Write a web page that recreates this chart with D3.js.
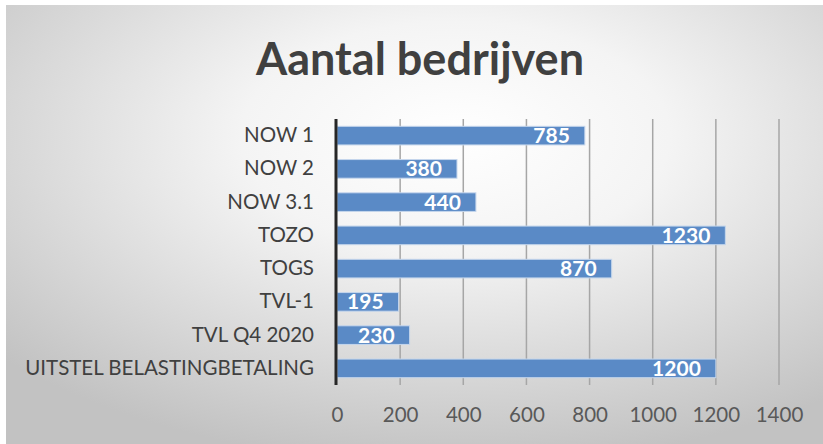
<!DOCTYPE html>
<html><head><meta charset="utf-8">
<script src="https://cdn.jsdelivr.net/npm/d3@7"></script>
<style>html,body{margin:0;padding:0;background:#fff;overflow:hidden}</style>
</head><body>
<svg id="c" width="823" height="444"></svg>
<script>
const categories = ["NOW 1","NOW 2","NOW 3.1","TOZO","TOGS","TVL-1","TVL Q4 2020","UITSTEL BELASTINGBETALING"];
const values = [785, 380, 440, 1230, 870, 195, 230, 1200];
const ticks = [0,200,400,600,800,1000,1200,1400];
const title = "Aantal bedrijven";

const svg = d3.select("#c");
const defs = svg.append("defs");
const g = defs.append("radialGradient").attr("id","bg").attr("cx","0.55").attr("cy","0.3").attr("r","0.75");
g.append("stop").attr("offset","0").attr("stop-color","#ffffff");
g.append("stop").attr("offset","0.35").attr("stop-color","#f4f4f4");
g.append("stop").attr("offset","1").attr("stop-color","#c2c2c2");
svg.append("rect").attr("x",6).attr("y",5).attr("width",817).attr("height",439).attr("fill","url(#bg)");

svg.append("text").attr("x",420).attr("y",75).attr("text-anchor","middle")
  .attr("font-family","Lato").attr("font-weight","bold").attr("font-size",45)
  .attr("fill","#404040").text(title);

const x = d3.scaleLinear().domain([0,1400]).range([337,779]);
const y = d3.scaleBand().domain(categories).range([119,385]).paddingInner(0.44).paddingOuter(0.22);

// gridlines
svg.append("g").selectAll("line").data(ticks.slice(1)).join("line")
  .attr("x1",d=>x(d)).attr("x2",d=>x(d)).attr("y1",119).attr("y2",385)
  .attr("stroke","#a6a6a6").attr("stroke-width",1.5);

// x axis labels
const xa = svg.append("g").attr("transform","translate(0,385)")
  .call(d3.axisBottom(x).tickValues(ticks).tickFormat(d3.format("d")).tickSize(0).tickPadding(22));
xa.select(".domain").remove();
xa.selectAll("text").attr("font-family","Lato").attr("font-size",20.5).attr("fill","#595959");

// bars
svg.append("g").selectAll("rect").data(values).join("rect")
  .attr("x",x(0)).attr("y",(d,i)=>y(categories[i]))
  .attr("width",d=>x(d)-x(0)).attr("height",y.bandwidth())
  .attr("fill","#5a8ac6").attr("stroke","#c5d6ec").attr("stroke-width",1);

// data labels
svg.append("g").selectAll("text").data(values).join("text")
  .attr("x",d=>x(d)-15).attr("y",(d,i)=>y(categories[i])+y.bandwidth()/2)
  .attr("dy","0.36em").attr("text-anchor","end")
  .attr("font-family","Lato").attr("font-weight","bold").attr("font-size",21)
  .attr("fill","#ffffff").text(d=>d);

// y axis
const ya = svg.append("g").attr("transform","translate(336,0)")
  .call(d3.axisLeft(y).tickSize(0).tickPadding(22));
ya.select(".domain").attr("stroke","#262626").attr("stroke-width",3).attr("d","M0,119V385");
ya.selectAll("text").attr("font-family","Lato").attr("font-size",20.5).attr("fill","#404040");
</script>
</body></html>
